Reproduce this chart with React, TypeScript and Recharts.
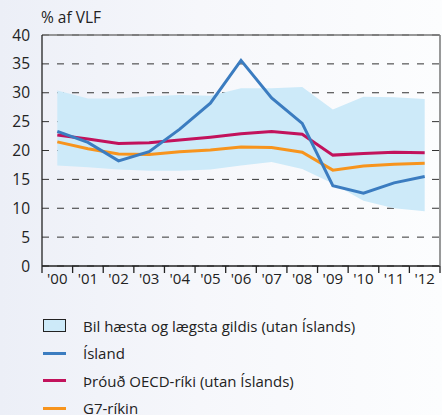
import {
  Area,
  CartesianGrid,
  ComposedChart,
  Line,
  ReferenceLine,
  XAxis,
  YAxis,
} from "recharts";

// values, % af VLF
const years = ["'00", "'01", "'02", "'03", "'04", "'05", "'06", "'07", "'08", "'09", "'10", "'11", "'12"];
const island = [23.3, 21.4, 18.2, 19.8, 23.7, 28.2, 35.6, 29.1, 24.7, 13.9, 12.6, 14.4, 15.5];
const oecd = [22.7, 22.0, 21.2, 21.35, 21.8, 22.3, 22.9, 23.3, 22.8, 19.2, 19.5, 19.7, 19.6];
const g7 = [21.5, 20.3, 19.4, 19.3, 19.8, 20.1, 20.6, 20.5, 19.7, 16.6, 17.3, 17.6, 17.8];
const bandHigh = [30.4, 29.0, 29.0, 29.4, 29.6, 29.5, 30.8, 30.8, 31.0, 27.1, 29.3, 29.2, 28.9];
const bandLow = [17.4, 17.1, 16.7, 16.5, 16.5, 16.7, 17.4, 18.0, 16.8, 14.3, 11.3, 10.0, 9.5];
const yTicks = [0, 5, 10, 15, 20, 25, 30, 35, 40];

const data = years.map((year, i) => ({
  year,
  island: island[i],
  oecd: oecd[i],
  g7: g7[i],
  range: [bandLow[i], bandHigh[i]],
}));

const FONT = "'Open Sans', 'Noto Sans', sans-serif";
const BLUE = "#3b7cc0";
const MAGENTA = "#c2125c";
const ORANGE = "#f7941d";
const BAND = "#cdeaf9";

// year label centred in its band, tick marks on the band edges
function YearTick({ x, y, payload, index }: any) {
  const half = payload?.offset || 15.3;
  const isLast = index === years.length - 1;
  return (
    <g>
      <line x1={x - half} y1={y} x2={x - half} y2={y + 7} stroke="#222" strokeWidth={1.3} />
      {isLast && <line x1={x + half} y1={y} x2={x + half} y2={y + 7} stroke="#222" strokeWidth={1.3} />}
      <text x={x} y={y + 18} textAnchor="middle" fontSize={15} fill="#222" fontFamily={FONT}>
        {payload.value}
      </text>
    </g>
  );
}

const legendItems = [
  { label: "Bil hæsta og lægsta gildis (utan Íslands)", kind: "box", color: BAND },
  { label: "Ísland", kind: "line", color: BLUE },
  { label: "Þróuð OECD-ríki (utan Íslands)", kind: "line", color: MAGENTA },
  { label: "G7-ríkin", kind: "line", color: ORANGE },
];

export default function App() {
  return (
    <div
      style={{
        position: "absolute",
        left: 0,
        top: 0,
        width: 442,
        height: 415,
        overflow: "hidden",
        background: "linear-gradient(90deg, #eceff7 0%, #f6f7fb 45%, #fcfdfe 100%)",
        fontFamily: FONT,
      }}
    >
      <div style={{ position: "absolute", left: 41, top: 6, fontSize: 15.5, color: "#222" }}>% af VLF</div>
      <div style={{ position: "absolute", left: 0, top: 0 }}>
        <ComposedChart
          width={442}
          height={290}
          data={data}
          margin={{ top: 35, right: 1, left: 0, bottom: 0 }}
        >
          <CartesianGrid vertical={false} stroke="#333" strokeDasharray="7 8" />
          <XAxis
            dataKey="year"
            scale="band"
            height={24}
            axisLine={{ stroke: "#222", strokeWidth: 1.3 }}
            tickLine={false}
            tickSize={0}
            tickMargin={0}
            interval={0}
            tick={<YearTick />}
          />
          <YAxis
            domain={[0, 40]}
            ticks={yTicks}
            width={42}
            axisLine={{ stroke: "#222", strokeWidth: 1.3 }}
            tickLine={false}
            tickMargin={6}
            tick={{ fontSize: 15.5, fill: "#222", fontFamily: FONT }}
          />
          <YAxis
            yAxisId="right"
            orientation="right"
            domain={[0, 40]}
            width={1}
            tick={false}
            tickLine={false}
            axisLine={{ stroke: "#777", strokeWidth: 1.5 }}
          />
          <ReferenceLine y={40} stroke="#777" strokeWidth={1.5} />
          <Area
            dataKey="range"
            type="linear"
            stroke="none"
            fill={BAND}
            fillOpacity={1}
            isAnimationActive={false}
          />
          <Line dataKey="g7" type="linear" stroke={ORANGE} strokeWidth={3} dot={false} isAnimationActive={false} />
          <Line dataKey="oecd" type="linear" stroke={MAGENTA} strokeWidth={3} dot={false} isAnimationActive={false} />
          <Line dataKey="island" type="linear" stroke={BLUE} strokeWidth={3} dot={false} isAnimationActive={false} />
        </ComposedChart>
      </div>
      <div style={{ position: "absolute", left: 43, top: 312 }}>
        {legendItems.map((item) => (
          <div key={item.label} style={{ display: "flex", alignItems: "center", height: 27.5 }}>
            {item.kind === "box" ? (
              <div
                style={{
                  width: 21,
                  height: 11,
                  background: item.color,
                  border: "1px solid #222",
                }}
              />
            ) : (
              <div style={{ width: 23, height: 3, background: item.color }} />
            )}
            <span style={{ marginLeft: 17, fontSize: 15, color: "#222" }}>{item.label}</span>
          </div>
        ))}
      </div>
    </div>
  );
}
